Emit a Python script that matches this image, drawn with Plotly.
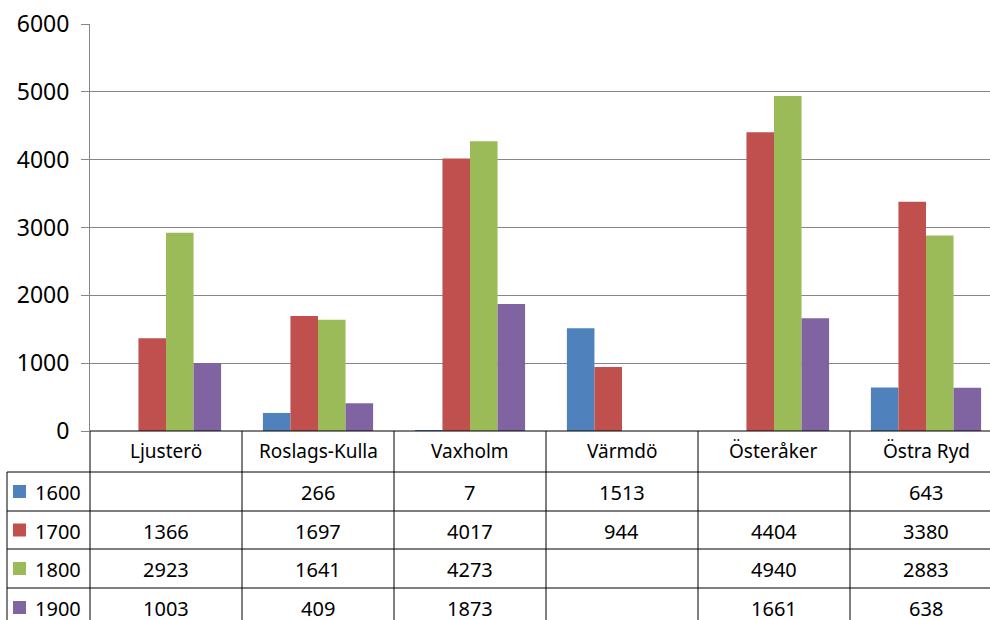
import plotly.graph_objects as go

categories = ["Ljusterö", "Roslags-Kulla", "Vaxholm", "Värmdö", "Österåker", "Östra Ryd"]
series_names = ["1600", "1700", "1800", "1900"]
v1600 = [None, 266, 7, 1513, None, 643]
v1700 = [1366, 1697, 4017, 944, 4404, 3380]
v1800 = [2923, 1641, 4273, None, 4940, 2883]
v1900 = [1003, 409, 1873, None, 1661, 638]
y_ticks = [0, 1000, 2000, 3000, 4000, 5000, 6000]

series_values = [v1600, v1700, v1800, v1900]
colors = ["#4F81BD", "#C0504D", "#9BBB59", "#8064A2"]

W, H = 990, 620
L, T, B = 90, 24, 189          # plot area: x 90..990, y 24..431
plot_h = H - T - B
cat_px = 152.0
xmin = -0.5
xmax = xmin + (W - L) / cat_px

FONT = "Noto Sans"

fig = go.Figure()
for name, vals, col in zip(series_names, series_values, colors):
    fig.add_trace(go.Bar(x=categories, y=vals, name=name, marker_color=col,
                         marker_line_width=0, showlegend=False))


def xp(xval):
    return (xval - xmin) / (xmax - xmin)


def xpix(px):
    return (px - L) / (W - L)


def yp(py):
    return (H - B - py) / plot_h


line = dict(color="#000000", width=1)
shapes = []
annotations = []

row_lines = [472, 511, 549, 588, 640]
shapes.append(dict(type="line", xref="paper", yref="paper", x0=0, x1=1.0,
                   y0=yp(431), y1=yp(431), line=line))
for py in row_lines[:-1]:
    shapes.append(dict(type="line", xref="paper", yref="paper", x0=xpix(7), x1=1.0,
                       y0=yp(py), y1=yp(py), line=line))
shapes.append(dict(type="line", xref="paper", yref="paper", x0=xpix(7), x1=xpix(7),
                   y0=yp(472), y1=yp(640), line=line))
for k in range(len(categories)):
    xv = xp(k - 0.5)
    shapes.append(dict(type="line", xref="paper", yref="paper", x0=xv, x1=xv,
                       y0=yp(431), y1=yp(640), line=line))

for k, c in enumerate(categories):
    annotations.append(dict(text=c, xref="paper", yref="paper", x=xp(k), y=yp(450.5),
                            xanchor="center", yanchor="middle", showarrow=False,
                            font=dict(family=FONT, size=19, color="#000000")))

for i, (name, vals, col) in enumerate(zip(series_names, series_values, colors)):
    cy = (row_lines[i] + min(row_lines[i + 1], 627)) / 2
    shapes.append(dict(type="rect", xref="paper", yref="paper",
                       x0=xpix(13), x1=xpix(26), y0=yp(cy - 6.5), y1=yp(cy + 6.5),
                       fillcolor=col, line=dict(width=0)))
    annotations.append(dict(text=name, xref="paper", yref="paper", x=xpix(33), y=yp(cy + 1),
                            xanchor="left", yanchor="middle", showarrow=False,
                            font=dict(family=FONT, size=20, color="#000000")))
    for k, v in enumerate(vals):
        if v is None:
            continue
        annotations.append(dict(text=str(v), xref="paper", yref="paper", x=xp(k), y=yp(cy + 1),
                                xanchor="center", yanchor="middle", showarrow=False,
                                font=dict(family=FONT, size=20, color="#000000")))

fig.update_layout(
    width=W, height=H,
    margin=dict(l=L, r=0, t=T, b=B, pad=0),
    paper_bgcolor="white", plot_bgcolor="white",
    barmode="group", bargap=0.275, bargroupgap=0,
    shapes=shapes, annotations=annotations,
    font=dict(family=FONT, color="#000000"),
)
fig.update_xaxes(range=[xmin, xmax], showticklabels=False, ticks="", showgrid=False,
                 zeroline=False, showline=False)
fig.update_yaxes(range=[0, 6000], tickvals=y_ticks, ticks="outside", ticklen=8,
                 tickcolor="#868686", showline=True, linecolor="#868686", linewidth=1,
                 showgrid=True, gridcolor="#868686", gridwidth=1, zeroline=False,
                 tickfont=dict(family=FONT, size=23, color="#000000"),
                 ticklabelstandoff=7)

fig.write_html("out.html", config={"displayModeBar": False},
               post_script="document.body.style.margin='0';document.body.style.padding='0';")
